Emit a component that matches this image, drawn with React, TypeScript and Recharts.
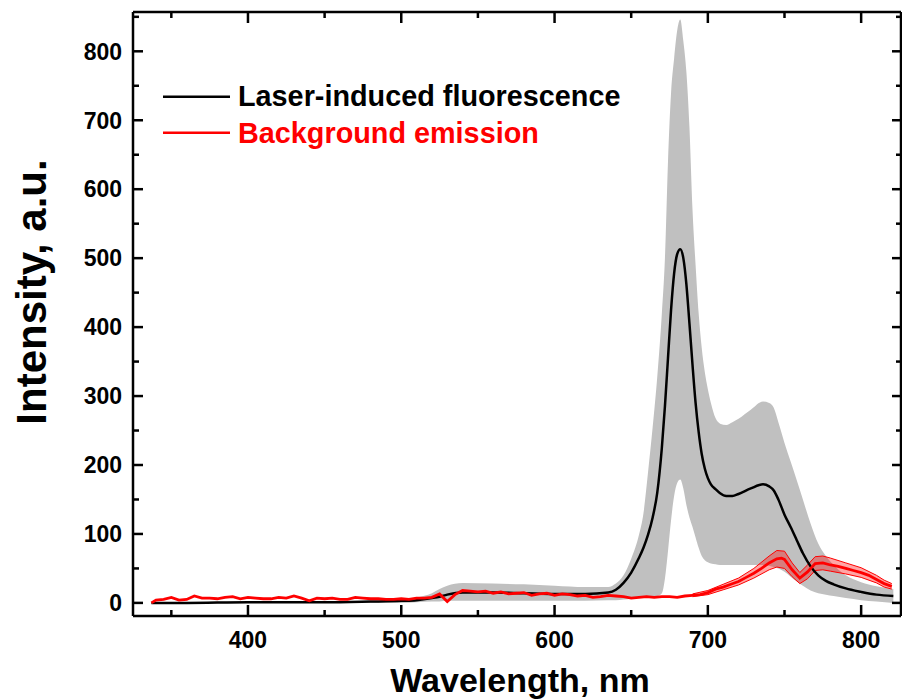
import { ComposedChart, Line, Area, XAxis, YAxis, Legend } from 'recharts';

// laser-induced fluorescence: mean and spread (gray band)
const fluoWl = [337, 360, 400, 450, 480, 500, 510, 520, 525, 530, 540, 560, 580, 600, 620, 635, 640, 645, 650, 655, 658, 661, 664, 667, 670, 672, 674, 676, 678, 680, 682, 684, 686, 688, 690, 692, 694, 696, 698, 700, 702, 705, 708, 712, 716, 720, 728, 736, 740, 743, 746, 750, 754, 758, 762, 767, 772, 777, 782, 790, 800, 810, 821];
const fluoMean = [0, 0, 1, 1, 2, 3, 4, 7, 9, 12, 15, 15, 14, 13, 13, 15, 19, 29, 44, 65, 80, 99, 124, 160, 225, 285, 355, 425, 478, 506, 513, 500, 462, 405, 345, 290, 248, 216, 195, 181, 172, 165, 159, 155, 155, 158, 166, 172, 169, 163, 150, 128, 110, 91, 72, 53, 40, 32, 27, 21, 16, 12, 10];
const fluoLow = [-1, -1, 0, 0, 0, 0, 1, 2, 2, 3, 3, 3, 3, 3, 3, 4, 4, 5, 6, 8, 9, 10, 10, 10, 14, 35, 75, 120, 155, 174, 179, 166, 142, 124, 110, 95, 80, 68, 62, 59, 57, 56, 55, 55, 55, 55, 55, 55, 54, 52, 50, 45, 38, 31, 25, 18, 14, 12, 10, 7, 4, 2, 0];
const fluoHigh = [1, 1, 2, 2, 3, 5, 8, 14, 20, 25, 29, 28, 27, 25, 23, 23, 28, 40, 64, 98, 130, 190, 255, 328, 420, 500, 640, 740, 790, 830, 846, 815, 770, 690, 570, 490, 420, 370, 335, 310, 290, 268, 260, 258, 262, 267, 280, 292, 290, 283, 262, 232, 205, 178, 150, 115, 86, 68, 55, 40, 30, 24, 20];

// background emission: mean
const bgWl = [337, 340, 345, 350, 355, 360, 365, 370, 375, 380, 385, 390, 395, 400, 405, 410, 415, 420, 425, 430, 435, 440, 445, 450, 455, 460, 465, 470, 475, 480, 485, 490, 495, 500, 505, 510, 515, 520, 525, 530, 535, 540, 545, 550, 555, 560, 565, 570, 575, 580, 585, 590, 595, 600, 605, 610, 615, 620, 625, 630, 635, 640, 645, 650, 655, 660, 665, 670, 675, 680, 685, 690, 695, 700, 705, 710, 715, 720, 725, 730, 735, 740, 745, 748, 750, 755, 760, 765, 770, 775, 780, 785, 790, 795, 800, 805, 810, 815, 820];
const bgMean = [0, 4, 5, 8, 4, 5, 10, 7, 7, 6, 8, 9, 6, 8, 7, 6, 6, 8, 7, 10, 7, 3, 7, 6, 7, 5, 5, 8, 7, 6, 6, 5, 5, 6, 5, 7, 7, 8, 13, 2, 12, 18, 17, 16, 17, 14, 16, 13, 14, 15, 11, 13, 14, 11, 13, 12, 10, 11, 8, 9, 11, 10, 9, 7, 8, 9, 8, 9, 9, 8, 10, 11, 12, 15, 20, 23, 27, 31, 37, 43, 50, 58, 64, 65, 63, 48, 36, 45, 57, 58, 55, 53, 50, 47, 44, 40, 34, 28, 24];

// background emission: spread
const bandWl = [690, 700, 710, 720, 730, 740, 745, 750, 755, 760, 765, 770, 775, 780, 790, 800, 810, 815, 820];
const bandLow = [9, 12, 19, 26, 36, 48, 52, 50, 38, 28, 35, 47, 48, 46, 42, 37, 29, 23, 20];
const bandHigh = [13, 18, 27, 36, 50, 68, 76, 75, 58, 44, 55, 67, 68, 65, 58, 51, 40, 33, 28];

const xMajor = [400, 500, 600, 700, 800];
const xMinor = [350, 450, 550, 650, 750];
const yMajor = [0, 100, 200, 300, 400, 500, 600, 700, 800];
const yMinor = [50, 150, 250, 350, 450, 550, 650, 750, 850];

const fluoData = fluoWl.map((x, i) => ({ x, mean: fluoMean[i], band: [fluoLow[i], fluoHigh[i]] }));
const bgData = bgWl.map((x, i) => ({ x, mean: bgMean[i] }));
const bgBand = bandWl.map((x, i) => ({ x, band: [bandLow[i], bandHigh[i]] }));

const xTicks = [...xMajor, ...xMinor].sort((a, b) => a - b);
const yTicks = [...yMajor, ...yMinor].sort((a, b) => a - b);

const font = '"Liberation Sans", Arial, sans-serif';

const BottomTick = (props: any) => {
  const { x, y, payload } = props;
  const major = xMajor.includes(payload.value);
  return (
    <g>
      <line x1={x} x2={x} y1={y} y2={y - (major ? 11 : 6)} stroke="#000" strokeWidth={2.5} />
      {major && (
        <text x={x} y={y + 32} textAnchor="middle" fontFamily={font} fontWeight="bold" fontSize={23} fill="#000">
          {payload.value}
        </text>
      )}
    </g>
  );
};

const TopTick = (props: any) => {
  const { x, y, payload } = props;
  const major = xMajor.includes(payload.value);
  return <line x1={x} x2={x} y1={y} y2={y + (major ? 11 : 6)} stroke="#000" strokeWidth={2.5} />;
};

const LeftTick = (props: any) => {
  const { x, y, payload } = props;
  const major = yMajor.includes(payload.value);
  return (
    <g>
      <line x1={x} x2={x + (major ? 10 : 6)} y1={y} y2={y} stroke="#000" strokeWidth={2.5} />
      {major && (
        <text x={x - 11} y={y} dy="0.36em" textAnchor="end" fontFamily={font} fontWeight="bold" fontSize={23} fill="#000">
          {payload.value}
        </text>
      )}
    </g>
  );
};

const RightTick = (props: any) => {
  const { x, y, payload } = props;
  const major = yMajor.includes(payload.value);
  return <line x1={x} x2={x - (major ? 9 : 5)} y1={y} y2={y} stroke="#000" strokeWidth={2.5} />;
};

const renderLegend = () => (
  <svg width={480} height={80}>
    <line x1={13} x2={80} y1={26.7} y2={26.7} stroke="#000" strokeWidth={2.5} />
    <text x={88} y={36} fontFamily={font} fontWeight="bold" fontSize={28.8} fill="#000">
      Laser-induced fluorescence
    </text>
    <line x1={13} x2={80} y1={62.7} y2={62.7} stroke="#ff0000" strokeWidth={2.5} />
    <text x={88} y={72.7} fontFamily={font} fontWeight="bold" fontSize={28.8} fill="#ff0000">
      Background emission
    </text>
  </svg>
);

const axisLine = { stroke: '#000', strokeWidth: 2.5 };

const App = () => {
  return (
    <div style={{ position: 'absolute', left: 0, top: 0, background: '#fff' }}>
      <ComposedChart width={902} height={700} margin={{ top: 0, right: 0, bottom: 0, left: 0 }}>
        <XAxis
          dataKey="x"
          type="number"
          domain={[325, 826]}
          allowDataOverflow
          ticks={xTicks}
          interval={0}
          height={84}
          tickSize={0}
          tickMargin={0}
          tickLine={false}
          axisLine={axisLine}
          tick={BottomTick}
          label={{
            content: () => (
              <text x={520} y={692} textAnchor="middle" fontFamily={font} fontWeight="bold" fontSize={34} fill="#000">
                Wavelength, nm
              </text>
            ),
          }}
        />
        <XAxis
          xAxisId="top"
          orientation="top"
          dataKey="x"
          type="number"
          domain={[325, 826]}
          allowDataOverflow
          ticks={xTicks}
          interval={0}
          height={12}
          tickSize={0}
          tickMargin={0}
          tickLine={false}
          axisLine={axisLine}
          tick={TopTick}
        />
        <YAxis
          type="number"
          domain={[-19, 857]}
          allowDataOverflow
          ticks={yTicks}
          interval={0}
          width={133}
          tickSize={0}
          tickMargin={0}
          tickLine={false}
          axisLine={axisLine}
          tick={LeftTick}
          label={{
            content: () => (
              <text
                x={46}
                y={292}
                transform="rotate(-90 46 292)"
                textAnchor="middle"
                fontFamily={font}
                fontWeight="bold"
                fontSize={42}
                fill="#000"
              >
                Intensity, a.u.
              </text>
            ),
          }}
        />
        <YAxis
          yAxisId="right"
          orientation="right"
          type="number"
          domain={[-19, 857]}
          allowDataOverflow
          ticks={yTicks}
          interval={0}
          width={1}
          tickSize={0}
          tickMargin={0}
          tickLine={false}
          axisLine={axisLine}
          tick={RightTick}
        />
        <Legend
          layout="horizontal"
          verticalAlign="middle"
          align="center"
          wrapperStyle={{ left: 150, top: 70, width: 480, height: 80 }}
          content={renderLegend}
        />
        <Area
          data={fluoData}
          dataKey="band"
          type="monotone"
          stroke="none"
          fill="#c0c0c0"
          fillOpacity={1}
          isAnimationActive={false}
          legendType="none"
        />
        <Line
          data={fluoData}
          dataKey="mean"
          type="monotone"
          stroke="#000"
          strokeWidth={2.5}
          dot={false}
          activeDot={false}
          isAnimationActive={false}
          name="Laser-induced fluorescence"
        />
        <Area
          data={bgBand}
          dataKey="band"
          type="linear"
          stroke="#ff0000"
          strokeWidth={1}
          fill="#ff0000"
          fillOpacity={0.35}
          isAnimationActive={false}
          legendType="none"
        />
        <Line
          data={bgData}
          dataKey="mean"
          type="linear"
          stroke="#ff0000"
          strokeWidth={2.8}
          dot={false}
          activeDot={false}
          isAnimationActive={false}
          name="Background emission"
        />
      </ComposedChart>
    </div>
  );
};

export default App;
